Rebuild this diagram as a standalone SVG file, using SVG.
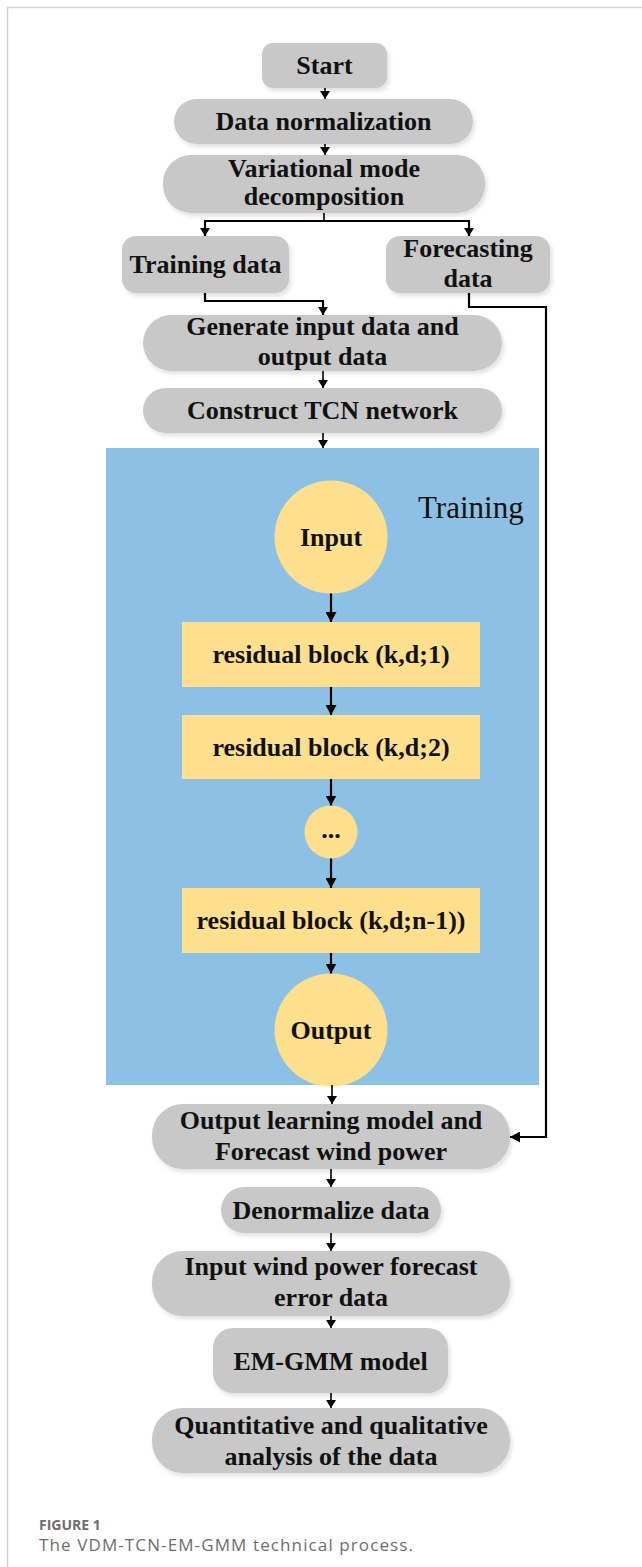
<svg xmlns="http://www.w3.org/2000/svg" width="642" height="1567" viewBox="0 0 642 1567">
  <defs>
    <style>
      .box { fill: #c8c8c8; filter: url(#shade); }
      .lbl { font-family: "Liberation Serif", "Times New Roman", serif; font-weight: bold; font-size: 26px; fill: #111; text-anchor: middle; }
      .blk { fill: #fedf8d; }
      .wire { fill: none; stroke: #000; stroke-width: 1.6; }
      .wire2 { fill: none; stroke: #000; stroke-width: 2.2; }
      .frame { stroke: #d4d4d4; stroke-width: 1.5; fill: none; }
      .cap { font-family: "Open Sans", "Liberation Sans", sans-serif; fill: #6e6e6e; }
    </style>
    <filter id="shade" x="-5%" y="-10%" width="112%" height="130%">
      <feDropShadow dx="2" dy="3" stdDeviation="2" flood-color="#000" flood-opacity="0.12"/>
    </filter>
    <marker id="ah" viewBox="0 0 8 10" refX="8" refY="5" markerWidth="8" markerHeight="10" markerUnits="userSpaceOnUse" orient="auto">
      <path d="M0,0 L8,5 L0,10 Z" fill="#000"/>
    </marker>
    <marker id="ah2" viewBox="0 0 10 11" refX="10" refY="5.5" markerWidth="10" markerHeight="11" markerUnits="userSpaceOnUse" orient="auto">
      <path d="M0,0 L10,5.5 L0,11 Z" fill="#000"/>
    </marker>
  </defs>

  <rect width="642" height="1567" fill="#fff"/>
  <!-- page frame -->
  <path class="frame" d="M7.5,1567 V7.5 H642"/>

  <!-- training panel -->
  <g id="panel">
    <rect x="106" y="448" width="433" height="637" fill="#8cc0e5"/>
    <text x="418" y="518" font-family="'Liberation Serif', 'Times New Roman', serif" font-size="31" fill="#111">Training</text>
  </g>

  <g id="start">
    <rect class="box" x="262" y="43" width="125" height="45" rx="11"/>
    <text class="lbl" x="324.5" y="74">Start</text>
  </g>
  <g id="normalize">
    <rect class="box" x="174" y="99" width="299" height="45" rx="22.5"/>
    <text class="lbl" x="323.5" y="130">Data normalization</text>
  </g>
  <g id="vmd">
    <rect class="box" x="163" y="155" width="322" height="58" rx="28"/>
    <text class="lbl" x="324" y="177">Variational mode</text>
    <text class="lbl" x="324" y="205">decomposition</text>
  </g>
  <g id="training-data">
    <rect class="box" x="122" y="236" width="167" height="57" rx="14"/>
    <text class="lbl" x="205.5" y="273">Training data</text>
  </g>
  <g id="forecasting-data">
    <rect class="box" x="386" y="236" width="164" height="57" rx="14"/>
    <text class="lbl" x="468" y="257">Forecasting</text>
    <text class="lbl" x="468" y="287">data</text>
  </g>
  <g id="generate">
    <rect class="box" x="143" y="315" width="359" height="56" rx="28"/>
    <text class="lbl" x="322.5" y="335">Generate input data and</text>
    <text class="lbl" x="322.5" y="365">output data</text>
  </g>
  <g id="construct">
    <rect class="box" x="143" y="388" width="359" height="45" rx="22.5"/>
    <text class="lbl" x="322.5" y="419">Construct TCN network</text>
  </g>

  <g id="input">
    <circle class="blk" cx="331" cy="537" r="56.5"/>
    <text class="lbl" x="331" y="546">Input</text>
  </g>
  <g id="res1">
    <rect class="blk" x="182" y="622" width="298" height="65"/>
    <text class="lbl" x="331" y="663">residual block (k,d;1)</text>
  </g>
  <g id="res2">
    <rect class="blk" x="182" y="715" width="298" height="64"/>
    <text class="lbl" x="331" y="756">residual block (k,d;2)</text>
  </g>
  <g id="dots">
    <circle class="blk" cx="331" cy="832" r="26.5"/>
    <text class="lbl" x="331" y="838" font-size="16">...</text>
  </g>
  <g id="resn">
    <rect class="blk" x="182" y="888" width="298" height="65"/>
    <text class="lbl" x="331" y="929">residual block (k,d;n-1))</text>
  </g>
  <g id="output">
    <circle class="blk" cx="331" cy="1030" r="56.5"/>
    <text class="lbl" x="331" y="1039">Output</text>
  </g>

  <g id="forecast-power">
    <rect class="box" x="152" y="1104" width="358" height="65" rx="31"/>
    <text class="lbl" x="331" y="1129">Output learning model and</text>
    <text class="lbl" x="331" y="1160">Forecast wind power</text>
  </g>
  <g id="denormalize">
    <rect class="box" x="221" y="1187" width="220" height="46" rx="23"/>
    <text class="lbl" x="331" y="1219">Denormalize data</text>
  </g>
  <g id="error-data">
    <rect class="box" x="152" y="1251" width="358" height="65" rx="31"/>
    <text class="lbl" x="331" y="1275">Input wind power forecast</text>
    <text class="lbl" x="331" y="1306">error data</text>
  </g>
  <g id="emgmm">
    <rect class="box" x="213" y="1328" width="235" height="65" rx="20"/>
    <text class="lbl" x="330.5" y="1370">EM-GMM model</text>
  </g>
  <g id="analysis">
    <rect class="box" x="152" y="1408" width="358" height="65" rx="31"/>
    <text class="lbl" x="331" y="1434">Quantitative and qualitative</text>
    <text class="lbl" x="331" y="1465">analysis of the data</text>
  </g>

  <!-- connectors -->
  <g id="connectors">
    <path class="wire" d="M325,88 V99" marker-end="url(#ah)"/>
    <path class="wire" d="M325,144 V155" marker-end="url(#ah)"/>
    <path class="wire" d="M324,213 V221"/>
    <path class="wire2" d="M205,221 H469"/>
    <path class="wire2" d="M205,220 V236" marker-end="url(#ah)"/>
    <path class="wire2" d="M469,220 V236" marker-end="url(#ah)"/>
    <path class="wire2" d="M205,293 V301 H323 V315" marker-end="url(#ah)"/>
    <path class="wire2" d="M469,293 V307 H546 V1137 H510" marker-end="url(#ah2)"/>
    <path class="wire" d="M323,371 V388" marker-end="url(#ah)"/>
    <path class="wire" d="M323,433 V448" marker-end="url(#ah)"/>
    <path class="wire2" d="M331,593.5 V622" marker-end="url(#ah2)"/>
    <path class="wire2" d="M331,687 V715" marker-end="url(#ah2)"/>
    <path class="wire2" d="M331,779 V805.5" marker-end="url(#ah2)"/>
    <path class="wire2" d="M331,858.5 V888" marker-end="url(#ah2)"/>
    <path class="wire2" d="M331,953 V973.5" marker-end="url(#ah2)"/>
    <path class="wire" d="M332,1085 V1104" marker-end="url(#ah)"/>
    <path class="wire" d="M331,1169 V1187" marker-end="url(#ah)"/>
    <path class="wire" d="M331,1233 V1251" marker-end="url(#ah)"/>
    <path class="wire" d="M331,1316 V1328" marker-end="url(#ah)"/>
    <path class="wire" d="M331,1393 V1408" marker-end="url(#ah)"/>
  </g>

  <!-- caption -->
  <g id="caption">
    <text class="cap" x="39" y="1530" font-size="14" font-weight="bold">FIGURE 1</text>
    <text class="cap" x="39" y="1551" font-size="17" textLength="374" lengthAdjust="spacing">The VDM-TCN-EM-GMM technical process.</text>
  </g>
</svg>
